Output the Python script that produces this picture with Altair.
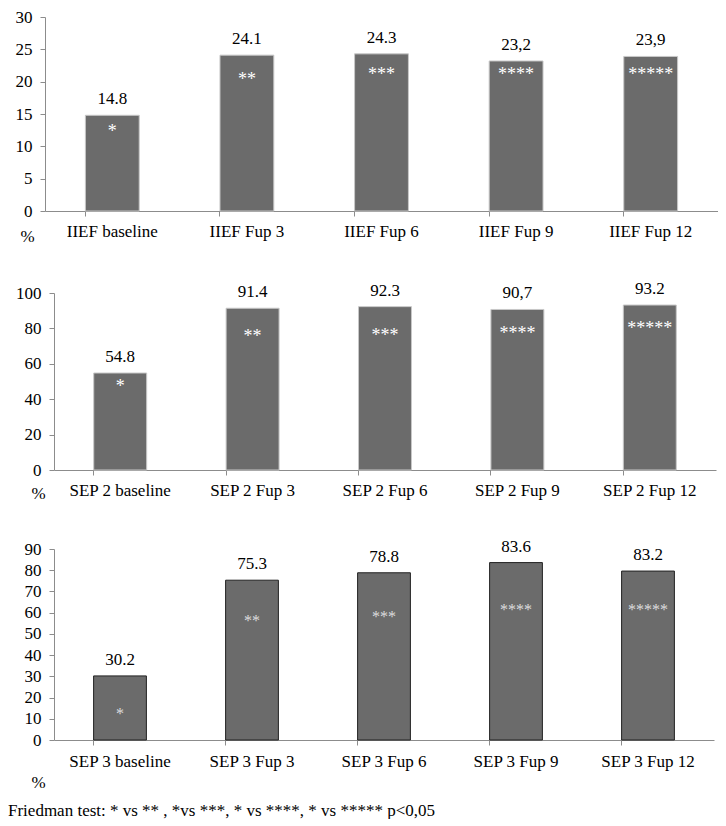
import altair as alt
import pandas as pd

stars = ["*", "**", "***", "****", "*****"]

iief_cats = ["IIEF baseline", "IIEF Fup 3", "IIEF Fup 6", "IIEF Fup 9", "IIEF Fup 12"]
iief_vals = [14.8, 24.1, 24.3, 23.2, 23.9]
iief_labels = ["14.8", "24.1", "24.3", "23,2", "23,9"]
iief_star_level = [12.8, 20.9, 21.7, 21.7, 21.6]

sep2_cats = ["SEP 2 baseline", "SEP 2 Fup 3", "SEP 2 Fup 6", "SEP 2 Fup 9", "SEP 2 Fup 12"]
sep2_vals = [54.8, 91.4, 92.3, 90.7, 93.2]
sep2_labels = ["54.8", "91.4", "92.3", "90,7", "93.2"]
sep2_star_level = [49.0, 77.2, 78.1, 79.1, 81.9]

sep3_cats = ["SEP 3 baseline", "SEP 3 Fup 3", "SEP 3 Fup 6", "SEP 3 Fup 9", "SEP 3 Fup 12"]
sep3_vals = [30.2, 75.3, 78.8, 83.6, 79.6]
sep3_labels = ["30.2", "75.3", "78.8", "83.6", "83.2"]
sep3_star_level = [13.7, 57.5, 59.4, 62.7, 62.7]

footnote = "Friedman test: * vs ** , *vs ***, * vs ****, * vs ***** p<0,05"

FONT = "Liberation Serif"
AX = "#8c8c8c"


def panel(cats, vals, labels, levels, ymax, ystep, height, width, xrange=None,
          yoffset=0, stroke="#c8c8c8", star_color="white", star_size=18,
          title_x=-18, title_y=30, label_pad=7, title=None):
    df = pd.DataFrame({"cat": cats, "val": vals, "lab": labels,
                       "lvl": levels, "star": stars})
    sc = dict(paddingInner=0.6, paddingOuter=0.3)
    if xrange is not None:
        sc["range"] = xrange
    xscale = alt.Scale(**sc)
    xaxis = alt.Axis(title="%", titleX=title_x, titleY=title_y,
                     titleAlign="center", titleBaseline="alphabetic",
                     titleFont=FONT, titleFontSize=17,
                     titleFontWeight="normal", titleColor="black",
                     labelAngle=0, bandPosition=0, labelFont=FONT,
                     labelFontSize=17, labelColor="black",
                     labelPadding=label_pad, tickSize=5, tickColor=AX,
                     domainColor=AX)
    yvals = list(range(0, ymax + 1, ystep))
    yscale = alt.Scale(domain=[0, ymax], nice=False)
    yaxis = alt.Axis(title=None, values=yvals, tickCount=len(yvals), grid=False,
                     labelOverlap=False, labelFlush=False,
                     labelFont=FONT, labelFontSize=17,
                     labelColor="black", labelPadding=8, tickSize=5,
                     tickColor=AX, domainColor=AX, offset=yoffset)

    def X():
        return alt.X("cat:N", sort=cats, scale=xscale, axis=xaxis)

    def Y(f):
        return alt.Y(f, type="quantitative", scale=yscale, axis=yaxis)

    base = alt.Chart(df)
    bars = base.mark_bar(color="#6b6b6b", stroke=stroke, strokeWidth=1).encode(
        x=X(), y=Y("val"))
    vlab = base.mark_text(font=FONT, fontSize=17, color="black",
                          baseline="alphabetic", dy=-11).encode(
        x=X(), y=Y("val"), text="lab:N")
    slab = base.mark_text(font=FONT, fontSize=star_size, color=star_color,
                          baseline="alphabetic", dy=star_size * 0.5).encode(
        x=X(), y=Y("lvl"), text="star:N")
    props = dict(width=width, height=height)
    if title is not None:
        props["title"] = title
    return alt.layer(bars, vlab, slab).properties(**props)


p1 = panel(iief_cats, iief_vals, iief_labels, iief_star_level, 30, 5,
           194, 673, title_x=-18, title_y=30)
p2 = panel(sep2_cats, sep2_vals, sep2_labels, sep2_star_level, 100, 20,
           177, 673, xrange=[9, 671], yoffset=-9, title_x=-7, title_y=28)
p3 = panel(sep3_cats, sep3_vals, sep3_labels, sep3_star_level, 90, 10,
           191, 673, xrange=[9, 669], yoffset=-9, stroke="#222222",
           star_color="#dddddd", star_size=16, title_x=-7, title_y=47,
           label_pad=8,
           title=alt.TitleParams(footnote, orient="bottom", anchor="start",
                                 frame="group", dx=-37, offset=13,
                                 font=FONT, fontSize=17, fontWeight="normal",
                                 color="black"))

chart = (alt.vconcat(p1, p2, p3, spacing=36)
         .properties(padding=0)
         .configure(font=FONT)
         .configure_axis(labelFont=FONT, titleFont=FONT)
         .configure_view(stroke=None))

chart.save("out.html", embed_options={"renderer": "svg", "actions": False})
